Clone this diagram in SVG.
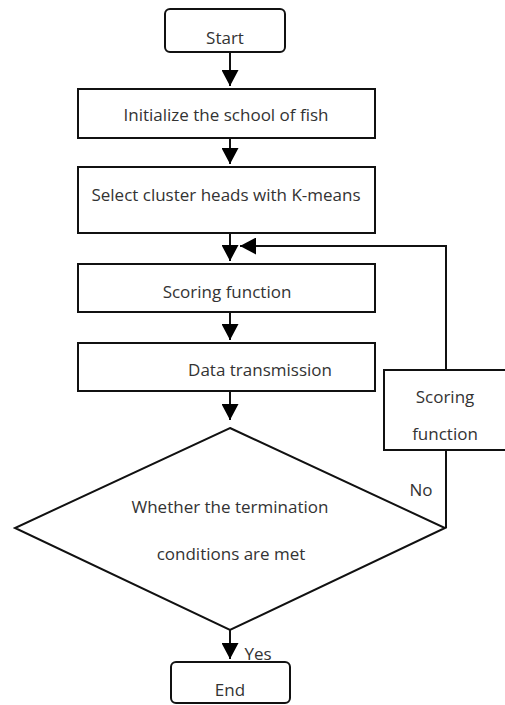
<svg xmlns="http://www.w3.org/2000/svg" width="505" height="705" viewBox="0 0 505 705">
<defs>
<marker id="ah" viewBox="0 0 16 17" refX="16" refY="8.5" markerWidth="16" markerHeight="17" markerUnits="userSpaceOnUse" orient="auto">
<path d="M0,0 L16,8.5 L0,17 Z" fill="#000"/>
</marker>
<style>
.box{fill:#fff;stroke:#111;stroke-width:2}
.ln{fill:none;stroke:#111;stroke-width:2}
.t{font-family:"Open Sans","Liberation Sans",sans-serif;font-size:17px;fill:#333;text-anchor:middle;dominant-baseline:central}
</style>
</defs>
<rect width="505" height="705" fill="#fff"/>
<g id="connectors">
<line class="ln" x1="230" y1="52" x2="230" y2="86" marker-end="url(#ah)"/>
<line class="ln" x1="230" y1="138" x2="230" y2="164" marker-end="url(#ah)"/>
<line class="ln" x1="230" y1="233" x2="230" y2="261" marker-end="url(#ah)"/>
<line class="ln" x1="230" y1="312" x2="230" y2="340" marker-end="url(#ah)"/>
<line class="ln" x1="230" y1="391" x2="230" y2="420" marker-end="url(#ah)"/>
<line class="ln" x1="230" y1="630" x2="230" y2="659" marker-end="url(#ah)"/>
<polyline class="ln" points="446,528 446,246 240,246" marker-end="url(#ah)"/>
<text class="t" x="421" y="489">No</text>
<text class="t" x="258" y="653">Yes</text>
</g>
<g id="start">
<rect class="box" x="165" y="9" width="120" height="43" rx="5"/>
<text class="t" x="225" y="37">Start</text>
</g>
<g id="init">
<rect class="box" x="78" y="89" width="297" height="49"/>
<text class="t" x="226" y="114">Initialize the school of fish</text>
</g>
<g id="select">
<rect class="box" x="78" y="167" width="297" height="66"/>
<text class="t" x="226" y="194">Select cluster heads with K-means</text>
</g>
<g id="scoring">
<rect class="box" x="78" y="264" width="297" height="48"/>
<text class="t" x="227" y="291">Scoring function</text>
</g>
<g id="data">
<rect class="box" x="78" y="343" width="297" height="48"/>
<text class="t" x="260" y="369">Data transmission</text>
</g>
<g id="scoring2">
<rect class="box" x="384" y="370" width="130" height="80"/>
<text class="t" x="445" y="396">Scoring</text>
<text class="t" x="445" y="433">function</text>
</g>
<g id="decision">
<polygon class="box" points="230,428 445,528 230,630 15,528"/>
<text class="t" x="230" y="506">Whether the termination</text>
<text class="t" x="231" y="553">conditions are met</text>
</g>
<g id="end">
<rect class="box" x="171" y="662" width="119" height="41" rx="5"/>
<text class="t" x="230" y="689">End</text>
</g>
</svg>
